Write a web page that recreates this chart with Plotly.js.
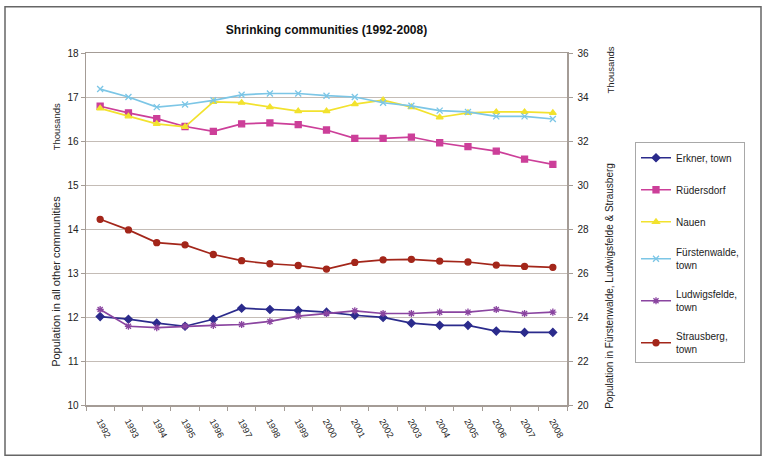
<!DOCTYPE html>
<html>
<head>
<meta charset="utf-8">
<script src="https://cdn.plot.ly/plotly-3.0.1.min.js"></script>
<style>html,body{margin:0;padding:0;background:#fff;}#chart{width:766px;height:459px;}</style>
</head>
<body>
<div id="chart"></div>
<script>
// ---- data (thousands) ----
const years = ['1992','1993','1994','1995','1996','1997','1998','1999','2000','2001','2002','2003','2004','2005','2006','2007','2008'];
// left axis
const erkner      = [12.01, 11.95, 11.86, 11.79, 11.95, 12.20, 12.17, 12.15, 12.11, 12.04, 11.99, 11.86, 11.81, 11.81, 11.68, 11.65, 11.65];
const ruedersdorf = [16.79, 16.64, 16.51, 16.33, 16.22, 16.39, 16.41, 16.37, 16.25, 16.06, 16.06, 16.09, 15.96, 15.87, 15.77, 15.59, 15.47];
const nauen       = [16.74, 16.56, 16.39, 16.32, 16.89, 16.87, 16.77, 16.68, 16.68, 16.84, 16.93, 16.77, 16.54, 16.64, 16.66, 16.66, 16.64];
// right axis
const fuerstenwalde = [34.36, 34.00, 33.54, 33.66, 33.85, 34.10, 34.16, 34.16, 34.06, 34.00, 33.74, 33.60, 33.38, 33.32, 33.12, 33.12, 33.00];
const ludwigsfelde  = [24.34, 23.58, 23.52, 23.58, 23.62, 23.66, 23.80, 24.04, 24.16, 24.28, 24.16, 24.16, 24.22, 24.22, 24.34, 24.16, 24.22];
const strausberg    = [28.44, 27.96, 27.38, 27.28, 26.84, 26.56, 26.42, 26.34, 26.18, 26.48, 26.60, 26.62, 26.54, 26.50, 26.36, 26.30, 26.26];

const names = ['Erkner, town', 'Rüdersdorf', 'Nauen', 'Fürstenwalde,<br>town', 'Ludwigsfelde,<br>town', 'Strausberg,<br>town'];

// ---- layout geometry ----
const W = 766, H = 459;
const L = 86, R = 567, T = 52.5, B = 405.5;
const px = x => (x - L) / (R - L);
const py = y => (B - y) / (B - T);

function tr(y, name, color, symbol, axis, group) {
  return {
    x: years, y: y, name: name, type: 'scatter', mode: 'lines+markers',
    yaxis: axis, legendgroup: group,
    line: {color: color, width: 1.7},
    marker: {color: color, symbol: symbol, size: 6, line: {color: color, width: 1.3}}
  };
}

const data = [
  tr(erkner, names[0], '#2b2b8c', 'diamond', 'y', 'a'),
  tr(ruedersdorf, names[1], '#cc3f99', 'square', 'y', 'b'),
  tr(nauen, names[2], '#f2e22e', 'triangle-up', 'y', 'c'),
  tr(fuerstenwalde, names[3], '#7cc6e6', 'x-thin-open', 'y2', 'd'),
  tr(ludwigsfelde, names[4], '#8a45a0', 'asterisk-open', 'y2', 'e'),
  tr(strausberg, names[5], '#a3261a', 'circle', 'y2', 'f')
];

const axisLine = '#a49c96';
const gridCol = '#c4bcb6';
const FAM = 'Liberation Sans, Arial, sans-serif';
const fnt = (s) => ({family: FAM, size: s, color: '#222'});

const layout = {
  width: W, height: H,
  margin: {l: L, r: W - R, t: T, b: H - B, pad: 0},
  paper_bgcolor: '#fff', plot_bgcolor: '#fff',
  font: fnt(10),
  showlegend: true,
  title: {text: '<b>Shrinking communities (1992-2008)</b>', font: {family: FAM, size: 12, color: '#111'},
          xref: 'paper', x: 0.5, xanchor: 'center', yref: 'container', y: 1 - 30 / H, yanchor: 'middle'},
  xaxis: {type: 'category', range: [-0.5, 16.5], showgrid: false, showline: true, linecolor: axisLine, linewidth: 1.5,
          mirror: true, ticks: 'outside', tickson: 'boundaries', ticklen: 4, tickcolor: axisLine,
          ticklabelstandoff: 6,
          tickangle: 62, tickfont: fnt(9), zeroline: false},
  yaxis: {range: [10, 18], dtick: 1, showgrid: true, gridcolor: gridCol, gridwidth: 1, showline: true, linecolor: axisLine,
          linewidth: 1.5, ticks: 'outside', ticklen: 4, tickcolor: axisLine, zeroline: false, tickfont: fnt(10)},
  yaxis2: {range: [20, 36], dtick: 2, overlaying: 'y', side: 'right', showgrid: false, showline: true, linecolor: axisLine,
           linewidth: 1.5, ticks: 'outside', ticklen: 4, tickcolor: axisLine, zeroline: false, tickfont: fnt(10),
           ticklabelstandoff: 3},
  legend: {x: px(635), xanchor: 'left', y: py(142), yanchor: 'top', bgcolor: '#fff', bordercolor: '#a8a8a8', borderwidth: 1,
           traceorder: 'grouped', tracegroupgap: 13, itemwidth: 30,
           font: fnt(10)},
  annotations: [
    {text: 'Thousands', xref: 'paper', yref: 'paper', x: px(56), y: py(127), xanchor: 'center', yanchor: 'middle',
     textangle: -90, showarrow: false, font: fnt(9.5)},
    {text: 'Population in all other communities', xref: 'paper', yref: 'paper', x: px(56), y: py(282), xanchor: 'center', yanchor: 'middle',
     textangle: -90, showarrow: false, font: fnt(11)},
    {text: 'Thousands', xref: 'paper', yref: 'paper', x: px(610), y: py(70), xanchor: 'center', yanchor: 'middle',
     textangle: -90, showarrow: false, font: fnt(9.5)},
    {text: 'Population in Fürstenwalde, Ludwigsfelde & Strausberg', xref: 'paper', yref: 'paper', x: px(610), y: py(286), xanchor: 'center', yanchor: 'middle',
     textangle: -90, showarrow: false, font: fnt(10)}
  ],
  shapes: [
    {type: 'rect', xref: 'paper', yref: 'paper', x0: px(5), x1: px(761), y0: py(456), y1: py(6),
     line: {color: '#666', width: 1.5}, fillcolor: 'rgba(0,0,0,0)', layer: 'below'}
  ]
};

Plotly.newPlot('chart', data, layout, {displayModeBar: false, staticPlot: true});
</script>
</body>
</html>
